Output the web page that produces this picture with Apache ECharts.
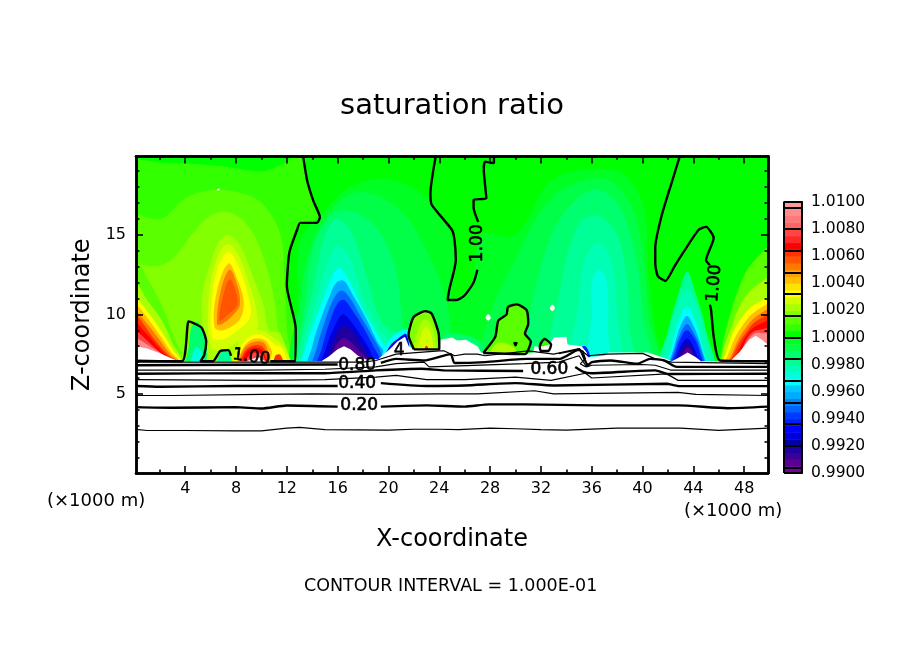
<!DOCTYPE html>
<html>
<head>
<meta charset="utf-8">
<style>html,body{margin:0;padding:0;background:#fff}#chart{width:904px;height:654px}</style>
<script src="https://cdn.jsdelivr.net/npm/echarts@6/dist/echarts.min.js"></script>
</head>
<body>
<div id="chart"></div>
<script>
// Tick values
var xMajor = [4, 8, 12, 16, 20, 24, 28, 32, 36, 40, 44, 48];
var xMinor = [2, 6, 10, 14, 18, 22, 26, 30, 34, 38, 42, 46];
var zMajor = [5, 10, 15];
var zMinor = [1, 2, 3, 4, 6, 7, 8, 9, 11, 12, 13, 14, 16, 17, 18, 19];
var barLabels = [0.99, 0.992, 0.994, 0.996, 0.998, 1, 1.002, 1.004, 1.006, 1.008, 1.01];
var barLines = [0.9904, 0.992, 0.9936, 0.9952, 0.9968, 0.9984, 1, 1.0016, 1.0032, 1.0048, 1.0064, 1.008, 1.0096];

// Colour of every 0.0005 band, from 0.9900 upward
var bandColors = ['#78009a', '#5a0096', '#3c0096', '#1e00a0', '#0000aa', '#0000dc', '#0000ff', '#001eff', '#003cff', '#0064ff',
  '#0082ff', '#00aaff', '#00c8ff', '#00ffff', '#00ffdc', '#00ffb4', '#00ff96', '#00ff6e', '#00ff46', '#00ff23',
  '#00ff00', '#32ff00', '#5aff00', '#82ff00', '#aaff00', '#d2ff00', '#ffff00', '#ffe100', '#ffbe00', '#ffa000',
  '#ff7800', '#ff5500', '#ff3200', '#ff0000', '#ff2828', '#ff4646', '#ff6464', '#ff7878', '#ff8c8c', '#ff9b9b'];

// Filled contour regions: [band value, [[x, z], ...]], painted in order
var upperLeftField = [
  [1.0007, [[-2, 19.2], [3, 19.5], [7, 19.3], [10, 19], [12, 19.6], [13.3, 20.5], [13.6, 18.4], [14.1, 17.1], [14.6, 16.1], [14.3, 15.7], [13, 15.7], [12.2, 13.9], [12, 11.8], [12.7, 9.1], [12.7, 6], [-2, 6]]],
  [1.0012, [[-2, 16.5], [2, 16], [4, 17.3], [6, 17.8], [8, 17.7], [10, 17], [11.5, 15], [11.8, 12], [12, 9], [12.2, 6], [-2, 6]]],
  [1.0017, [[-2, 13.5], [1.5, 13], [3, 13.5], [4.5, 15], [6, 16.2], [7.5, 16.4], [9, 15.5], [10.2, 13.5], [11, 11], [11.3, 9], [11.8, 6], [2, 6]]]
];
var lowMidField = [
  [0.9997, [[13, 6], [12.9, 11], [13, 14.5], [15, 16.5], [17, 18], [20, 18.5], [23.5, 17], [25.3, 14], [25, 11], [26.5, 12], [27.3, 15], [30, 15], [33, 18.5], [38, 19], [40, 17], [40.5, 12], [41, 9], [41.5, 6]]],
  [0.9992, [[13.2, 6], [13.1, 11], [14, 14.5], [16, 17], [18, 17.7], [21, 16.5], [23, 14], [24.5, 11], [25, 8], [25, 6]]],
  [0.9992, [[27.5, 6], [28, 10], [30, 13.5], [32, 16.5], [34, 18], [37, 18.5], [39, 17], [40, 14], [40.5, 10], [41, 6]]],
  [0.9987, [[13.3, 6], [13.5, 11], [14.2, 14.5], [15.5, 16.2], [17, 16.5], [19, 15.5], [20.5, 13], [21, 10], [21, 6]]],
  [0.9987, [[31, 6], [31, 9], [32, 13], [33.5, 16], [36, 17.8], [38, 17], [39.5, 13.5], [40, 10], [40.5, 6]]],
  [0.9982, [[33, 6], [33.6, 12], [35, 15.7], [36.5, 16.2], [38, 15], [38.8, 12], [39, 9], [39.5, 6]]],
  [0.9977, [[34.5, 6], [35, 11], [35.5, 13.5], [36.5, 14.5], [37.5, 13.5], [38, 10], [38.2, 6]]],
  [0.9972, [[35.6, 6], [36, 10], [36, 12], [36.6, 12.8], [37.2, 12], [37.3, 9], [37.3, 6]]]
];
var blueColumn16 = [
  [0.9982, [[12.9, 6], [13, 8], [13.6, 10], [14.3, 12.5], [15, 15], [16, 16], [17.2, 15], [18.4, 12], [19.5, 9.5], [21, 8.5], [21, 6]]],
  [0.9975, [[13, 6], [13.3, 8], [14, 10], [14.7, 12], [15.3, 13.5], [16, 14.3], [17, 13.5], [18, 11], [19.2, 9.2], [20.4, 7.8], [20.4, 6]]],
  [0.9965, [[13.2, 6], [13.5, 8], [14.4, 10], [15.1, 11.5], [15.7, 12.6], [16.2, 12.9], [17, 12], [18, 10.3], [19.1, 8.8], [20, 7.5], [20, 6]]],
  [0.9955, [[13.6, 6], [14, 8], [14.8, 10], [15.4, 11.2], [15.9, 12], [16.5, 12.1], [17.2, 11.2], [18.2, 9.8], [19.1, 8.3], [19.8, 7.4], [19.8, 6]]],
  [0.9945, [[14, 6], [14.4, 8], [15.1, 9.8], [15.7, 11], [16.3, 11.5], [16.9, 11.1], [17.7, 10], [18.6, 8.8], [19.5, 7.4], [19.5, 6]]],
  [0.9935, [[14.3, 6], [14.8, 8], [15.4, 9.6], [16, 10.7], [16.5, 10.9], [17.2, 10.2], [18, 9.2], [18.8, 8], [19.3, 7.2], [19.3, 6]]],
  [0.9925, [[14.6, 6], [15.1, 7.9], [15.8, 9.3], [16.4, 10], [17, 9.6], [17.8, 8.7], [18.7, 7.4], [18.8, 6]]],
  [0.9915, [[14.9, 6], [15.4, 7.8], [16, 8.9], [16.5, 9.3], [17.1, 9], [17.8, 8.2], [18.5, 7.2], [18.5, 6]]],
  [0.9905, [[15.1, 6], [15.7, 7.8], [16.4, 8.5], [17, 8.3], [17.7, 7.7], [18.3, 7.2], [18.3, 6]]]
];
var blueColumn43 = [
  [0.9982, [[41.3, 6], [42, 9], [42.9, 11.5], [43.5, 12.7], [44.1, 11.5], [45, 9], [45.6, 6]]],
  [0.9975, [[41.7, 6], [42.1, 8.8], [42.8, 10.7], [43.5, 11.6], [44.2, 10.7], [44.9, 8.8], [45.4, 6]]],
  [0.9965, [[41.9, 6], [42.3, 8], [42.8, 9.5], [43.5, 10.5], [44.2, 9.5], [44.7, 8], [45.1, 6]]],
  [0.9955, [[42, 6], [42.5, 8], [43, 9.3], [43.5, 9.9], [44, 9.3], [44.6, 8], [45, 6]]],
  [0.9945, [[42.1, 6], [42.6, 8], [43.1, 9], [43.5, 9.4], [43.9, 9], [44.5, 8], [44.9, 6]]],
  [0.9935, [[42.2, 6], [42.7, 7.9], [43.2, 8.8], [43.5, 9], [43.9, 8.7], [44.4, 7.9], [44.8, 6]]],
  [0.9925, [[42.3, 6], [42.9, 7.8], [43.5, 8.5], [44.1, 7.8], [44.7, 6]]],
  [0.9915, [[42.4, 6], [43, 7.7], [43.5, 8.2], [44, 7.7], [44.6, 6]]],
  [0.9905, [[42.5, 6], [43.2, 7.6], [43.55, 7.9], [43.9, 7.6], [44.5, 6]]]
];
var yellowPlume = [
  [1.0022, [[5.6, 7], [5.4, 9], [5.3, 11], [5.9, 13], [6.6, 14.5], [7.4, 15], [8.4, 14.2], [9.5, 12], [10.2, 10.5], [10.6, 9], [11.5, 8.8], [12, 6.5], [6, 6.5]]],
  [1.0027, [[6, 8], [5.8, 10], [6, 12], [6.7, 13.9], [7.4, 14.4], [8.2, 13.7], [9, 12], [9.6, 10.3], [9.6, 9], [8, 8.2], [6.8, 7.7]]],
  [1.0032, [[6.1, 8.6], [6.1, 11], [6.6, 13], [7.4, 13.9], [8.2, 13], [9, 11], [9.1, 9.8], [7.8, 8.8], [6.8, 8.4]]],
  [1.0042, [[6.3, 9.2], [6.5, 11.5], [7.4, 13.2], [8.1, 12.2], [8.6, 10.8], [8.3, 9.7], [7, 9]]],
  [1.0052, [[6.5, 9.4], [6.8, 11.5], [7.5, 12.8], [8.1, 11.8], [8.3, 10.6], [7.7, 9.9], [6.9, 9.4]]],
  [1.0057, [[6.7, 9.6], [7, 11.2], [7.5, 12.2], [8, 11.4], [8.1, 10.6], [7.4, 10]]]
];
var lowerBlob10 = [
  [1.0027, [[7.6, 6.5], [8, 7.8], [8.8, 8.9], [10, 9], [11, 8.5], [11.8, 7.9], [12.3, 6.5]]],
  [1.0032, [[7.9, 6.5], [8.3, 7.8], [9, 8.6], [10, 8.7], [10.9, 8.2], [11.6, 7.6], [12, 6.5]]],
  [1.0042, [[8.1, 6.5], [8.5, 7.8], [9.2, 8.4], [10.2, 8.4], [10.8, 7.7], [10.9, 6.5]]],
  [1.0052, [[8.2, 6.5], [8.6, 7.8], [9.3, 8.25], [10.2, 8.2], [10.6, 7.4], [10.7, 6.5]]],
  [1.0062, [[8.3, 6.5], [8.7, 7.7], [9.4, 8.05], [10.1, 7.95], [10.5, 7.3], [10.6, 6.5]]],
  [1.0067, [[8.4, 6.5], [8.8, 7.6], [9.5, 7.9], [10.1, 7.7], [10.4, 6.5]]],
  [1.0078, [[8.7, 6.5], [9, 7.4], [9.7, 7.6], [10.2, 7.3], [10.3, 6.5]]],
  [1.0032, [[10.7, 6.5], [11, 7.9], [11.4, 8], [11.9, 7.4], [12, 6.5]]],
  [1.0062, [[10.9, 6.5], [11.1, 7.4], [11.5, 7.45], [11.8, 6.5]]]
];
var lowLoops = [
  [0.9987, [[3.9, 6], [4.3, 8], [4.5, 9.2], [5, 9.5], [5.6, 8.5], [5.7, 7.5], [5.5, 6]]],
  [0.9972, [[4.3, 6], [4.8, 7.9], [5.3, 7.6], [5.5, 6]]],
  [0.9982, [[6.2, 6], [6.8, 7.6], [7.4, 7.7], [7.7, 6]]]
];
var leftFan = [
  [1.0012, [[-1, 6], [-1, 14], [0.125, 13.5], [1, 12.3], [2.2, 10.5], [3, 8.8], [3.6, 7]]],
  [1.0022, [[-1, 6], [-1, 12.3], [0.125, 12], [1, 10.9], [2.1, 9.7], [3, 8.2], [3.6, 7]]],
  [1.0032, [[-1, 6], [-1, 11.2], [0.125, 11], [1, 10.2], [2, 9.1], [3, 7.8], [3.6, 7]]],
  [1.0042, [[-1, 6], [-1, 10.8], [0.125, 10.6], [0.9, 9.9], [1.9, 8.8], [2.9, 7.6], [3.5, 7]]],
  [1.0052, [[-1, 6], [-1, 10.4], [0.125, 10.2], [0.8, 9.6], [1.8, 8.6], [2.8, 7.5], [3.4, 7]]],
  [1.0062, [[-1, 6], [-1, 10.1], [0.125, 9.95], [0.7, 9.4], [1.6, 8.4], [2.7, 7.4], [3.4, 7]]],
  [1.0067, [[-1, 6], [-1, 9.6], [0.125, 9.5], [0.6, 9.1], [1.5, 8.3], [2.6, 7.35], [3.4, 7]]],
  [1.0077, [[-1, 6], [-1, 9], [0.125, 8.9], [0.4, 8.8], [1.2, 8.2], [2.5, 7.3], [3.4, 7]]],
  [1.0092, [[-1, 6], [-1, 8.6], [0.125, 8.5], [1, 8.1], [2.3, 7.45], [3.4, 7]]]
];
var rightFan = [
  [1.0012, [[45.9, 6], [46.1, 7.05], [46.4, 8.5], [46.9, 10], [47.6, 11.7], [48.6, 13.2], [51, 14.6], [51, 6]]],
  [1.0022, [[46.1, 6], [46.3, 7.6], [46.9, 9], [47.7, 10.6], [48.8, 11.7], [51, 12.5], [51, 6]]],
  [1.0032, [[46.2, 6], [46.7, 7.9], [47.4, 9.3], [48.8, 10.6], [51, 11.2], [51, 6]]],
  [1.0042, [[46.4, 6], [47, 8], [47.7, 9.1], [48.9, 10.2], [51, 10.8], [51, 6]]],
  [1.0052, [[46.6, 6], [47.3, 8], [48, 9], [49, 9.9], [51, 10.5], [51, 6]]],
  [1.0062, [[46.7, 6], [47.4, 7.9], [48.1, 8.8], [49, 9.6], [51, 10.1], [51, 6]]],
  [1.0067, [[46.8, 6], [47.6, 7.8], [48.2, 8.7], [49, 9.3], [51, 9.7], [51, 6]]],
  [1.0077, [[46.9, 6], [47.8, 7.7], [48.3, 8.6], [49, 9], [51, 9], [51, 6]]],
  [1.0092, [[47, 6], [47.8, 7.7], [48.4, 8.5], [49, 8.85], [51, 8.4], [51, 6]]]
];
var cloudBlobs = [
  [1.0015, [[21.6, 6], [21.58, 8.68], [21.98, 9.83], [22.9, 10.2], [23.4, 10.05], [23.95, 8.8], [24, 6]]],
  [1.0022, [[22, 7], [22.3, 9], [22.9, 9.7], [23.5, 9.1], [23.7, 7]]],
  [1.0027, [[22.2, 7], [22.6, 8.8], [23, 9.2], [23.4, 8.6], [23.5, 7]]],
  [1.0065, [[22.6, 7], [23, 8.05], [23.3, 7]]],
  [1.0012, [[27.46, 7.2], [28.4, 8.57], [28.64, 9.6], [29.3, 10], [29.4, 10.46], [30.1, 10.63], [30.87, 10.26], [31, 9.4], [30.74, 8.8], [31.2, 8.3], [30.74, 7.2]]],
  [1.0022, [[27.8, 7], [28.6, 8.2], [30, 7.8], [29.6, 7]]],
  [1.0007, [[31.9, 7.6], [31.95, 8.1], [32.3, 8.45], [32.8, 8.1], [32.7, 7.6]]],
  [0.9935, [[34.7, 7], [35, 7.8], [35.5, 8], [35.9, 7.3], [35.8, 7]]],
  [0.9965, [[19.5, 7], [19.9, 8.2], [20.8, 8.9], [21.5, 9], [21.6, 7.5]]],
  [0.9925, [[19.6, 7], [20.1, 8], [20.8, 8.5], [21.4, 8.75], [21.5, 7.5]]],
  [0.9985, [[24.4, 7.5], [24.4, 8.7], [26, 8.7], [27.3, 8.2], [27.3, 7.5]]]
];
var whiteSpots = [
  [1.02, [[27.65, 9.8], [27.85, 10], [28.05, 9.8], [27.85, 9.6]]],
  [1.02, [[32.7, 10.4], [32.9, 10.6], [33.1, 10.4], [32.9, 10.2]]],
  [1.02, [[6.5, 17.85], [6.7, 17.9], [6.7, 17.8], [6.5, 17.8]]]
];

// White ground below the coloured field, top edge read left to right
var groundTop = [[-1, 8], [0.125, 8], [1, 7.85], [2, 7.55], [3, 7.2], [3.5, 7.05], [8.9, 7.05], [9.2, 7.2], [9.8, 7.3], [10.2, 7.1], [10.4, 7.05],
  [14.7, 7.05], [15.3, 7.35], [16, 7.8], [16.5, 8], [17, 7.8], [17.6, 7.4], [18.3, 7.15], [19.2, 7.2], [20.1, 7.8], [20.7, 8.3], [21.3, 8.6], [21.6, 8], [22, 7.8],
  [24, 7.8], [24.1, 8.4], [25, 8.55], [25.4, 8.35], [26.1, 8.4], [27, 8], [27.3, 7.6], [30.7, 7.5], [31.4, 7.6], [31.5, 8], [31.9, 7.95], [32.7, 8.1], [33, 8.55],
  [34, 8.6], [34.1, 8.1], [35.2, 8], [35.6, 7.6], [35.7, 7.3], [37, 7.4], [37.3, 7.6], [40.4, 7.6], [41.2, 7.4], [41.9, 7.2], [42.3, 7.05], [42.8, 7.25], [43.55, 7.6],
  [44.2, 7.3], [44.6, 7.05], [46.9, 7.05], [47.6, 7.6], [48.4, 8.4], [48.9, 8.65], [49.4, 8.4], [50, 8], [51, 8], [51, -1], [-1, -1]];

// Contour lines, thin ones
var line010 = [[0.1, 2.77], [1, 2.7], [4, 2.7], [8, 2.68], [10, 2.68], [12, 2.85], [13, 2.9], [15, 2.75], [20, 2.73], [22, 2.78], [24, 2.78], [25.5, 2.75], [28, 2.85], [30, 2.81], [32, 2.75], [34, 2.72], [38, 2.85], [43, 2.85], [46, 2.71], [49.9, 2.85]];
var line030 = [[0.1, 4.9], [3, 4.9], [10, 4.97], [14, 5], [19, 4.97], [24, 5], [27, 5], [31.5, 5.2], [33, 5], [42.8, 5.1], [44.2, 4.97], [49.9, 4.9]];
var line050 = [[0.1, 5.9], [10, 5.85], [15, 5.9], [19, 6.06], [20.6, 6.16], [23, 5.9], [24.5, 5.9], [26, 5.9], [30, 6.05], [32.8, 5.85], [35.5, 6.3], [36, 6], [41.9, 6.26], [42.8, 5.85], [49.9, 5.85]];
var line070 = [[0.1, 6.5], [10, 6.5], [15, 6.55], [19, 6.7], [20.6, 6.9], [22.8, 7], [23.2, 6.7], [24.4, 6.73], [30.7, 6.9], [33.4, 7], [35, 7.4], [35.6, 6.7], [36, 6.8], [40, 6.85], [41, 6.8], [42.2, 6.5], [49.9, 6.5]];
var line090 = [[0.1, 7], [18, 7], [19, 7.1], [20.6, 7.5], [24, 7.7], [24.4, 7.7], [25.2, 7.4], [26, 7.5], [27, 7.5], [27.6, 7.4], [31, 7.7], [33, 7.5], [35, 7.85], [35.7, 7.4], [37.2, 7.5], [40, 7.55], [41, 7.2], [42.3, 7], [49.9, 6.9]];
var line095 = [[33.4, 7.53], [34.7, 7.74], [35.3, 7.7], [35.5, 7.2], [35.1, 6.9], [35.5, 6.7], [35.7, 6.9]];

// Contour lines, thick ones, broken where a label sits
var line020a = [[0.1, 4.17], [3, 4.13], [8, 4.17], [10, 4.08], [12, 4.27], [16, 4.2]];
var line020b = [[19.4, 4.2], [23, 4.28], [26, 4.2], [27.9, 4.34], [30.7, 4.34], [36.5, 4.28], [42.8, 4.28], [46.7, 4.1], [49.9, 4.2]];
var line040a = [[0.1, 5.5], [2, 5.45], [8, 5.5], [12, 5.5], [16, 5.5]];
var line040b = [[19.4, 5.68], [23, 5.5], [26, 5.53], [30, 5.68], [33, 5.53], [41.9, 5.64], [42.8, 5.5], [49.9, 5.49]];
var line060a = [[0.1, 6.27], [10, 6.3], [15, 6.3], [19, 6.48], [22.6, 6.58], [24.4, 6.48], [30.6, 6.44]];
var line060b = [[34.7, 6.69], [35.3, 6.4], [36, 6.3], [41, 6.48], [42, 6.25], [49.9, 6.27]];
var line080a = [[0.1, 6.8], [15, 6.85], [16, 6.85]];
var line080b = [[19.4, 6.95], [20.6, 7.2], [22.8, 7.1], [24.9, 7.5], [25.2, 6.94], [27.6, 7], [30.9, 7.2], [33.5, 7.2], [35, 7.8], [35.7, 6.8], [36, 7], [37.5, 7.1], [39.6, 6.9], [40.6, 7.2], [41.7, 7.1], [42.7, 6.7], [49.9, 6.7]];
var line100a = [[0.1, 7.08], [3.74, 7.05], [4.26, 9.56], [4.66, 9.45], [5.3, 9.15], [5.65, 8.3], [5.5, 7.45], [5.2, 7.05], [6.18, 7.05], [6.76, 7.7], [7.4, 7.75], [7.6, 7.4]];
var line100b = [[10.7, 7.05], [12.66, 7.05], [12.7, 9.1], [12, 11.8], [12.2, 13.9], [12.8, 15.3], [13.05, 15.75], [14.37, 15.75], [14.6, 16.1], [14.1, 17.1], [13.6, 18.4], [13.3, 19.85]];
var line100c = [[22, 7.8], [21.58, 8.68], [21.98, 9.83], [22.9, 10.2], [23.4, 10.05], [23.95, 8.8], [24, 7.8], [22, 7.8]];
var line100d = [[23.7, 19.85], [23.3, 17.6], [23.4, 16.9], [25, 15.3], [25.2, 14.65], [25.3, 13.4], [24.8, 11.6], [24.65, 10.9], [25.36, 10.9], [26, 11.2], [26.7, 12], [27, 12.8]];
var line100e = [[27.07, 15.8], [26.7, 16.7], [26.7, 17.2], [27.7, 17.3], [27.5, 19.1], [27.6, 19.6], [28.3, 19.5], [28.3, 19.85]];
var line100f = [[27.46, 7.57], [28.4, 8.57], [28.64, 9.6], [29.3, 10], [29.4, 10.46], [30.1, 10.63], [30.87, 10.26], [31, 9.4], [30.74, 8.8], [31.2, 8.3], [30.74, 7.5], [27.46, 7.57]];
var line100g = [[31.9, 7.95], [32, 8.2], [32.3, 8.45], [32.8, 8.1], [32.6, 7.7], [32, 7.7], [31.9, 7.95]];
var line100h = [[42.9, 19.85], [42.3, 18.3], [41.5, 16.2], [41, 14.2], [41, 13.2], [41.2, 12.4], [41.8, 12.1], [42.5, 13], [43.3, 14], [44.4, 15.3], [45, 15.5], [45.6, 14.8], [45, 13.4], [45.3, 13.1]];
var line100i = [[45.3, 10.6], [45.4, 10.25], [45.6, 8.6], [46.1, 7.1], [49.9, 7.05]];
var line100j = [[29.9, 8.25], [30, 8.05], [30.1, 8.25]];

// Contour labels: x, z, text, rotation
var contourLabels = [
  [17.54, 6.8, '0.80', 0], [17.54, 5.66, '0.40', 0], [17.7, 4.28, '0.20', 0], [32.66, 6.54, '0.60', 0],
  [9.2, 7.3, '1.00', -8], [26.99, 14.47, '1.00', 90], [45.65, 11.95, '1.00', 85], [20.85, 7.74, '4', 0]
];

var thinLines = [line010, line030, line050, line070, line090, line095];
var thickLines = [line020a, line020b, line040a, line040b, line060a, line060b, line080a, line080b, line100a, line100b,
  line100c, line100d, line100e, line100f, line100g, line100h, line100i, line100j];
var fieldRings = [].concat(upperLeftField, lowMidField, blueColumn16, blueColumn43, yellowPlume, lowerBlob10, lowLoops, leftFan, rightFan, cloudBlobs, whiteSpots);

var FONT = '"DejaVu Sans", sans-serif';

function bandColor(v) {
  if (v < 0.99 || v >= 1.01) return '#ffffff';
  return bandColors[Math.floor((v - 0.99) / 0.0005)];
}

// One axis of the frame, ticks pointing into the plot
function frameAxis(dim, position, ticks, len, labels) {
  var axis = {
    type: 'value',
    position: position,
    min: dim == 'x' ? 0.125 : 0.03,
    max: dim == 'x' ? 49.875 : 19.92,
    z: 10,
    splitLine: { show: false },
    axisLine: { show: true, onZero: false, lineStyle: { color: '#000', width: 2.5 } },
    axisTick: { show: true, inside: true, length: len, customValues: ticks, lineStyle: { color: '#000', width: 1.6 } },
    axisLabel: { show: false }
  };
  if (labels) {
    axis.axisLabel = { show: true, customValues: labels, color: '#000', fontFamily: FONT, fontSize: 16, margin: dim == 'x' ? 8 : 10 };
  }
  return axis;
}

var xAxes = [
  frameAxis('x', 'bottom', xMajor, 7, xMajor),
  frameAxis('x', 'bottom', xMinor, 3.5),
  frameAxis('x', 'top', xMajor, 7),
  frameAxis('x', 'top', xMinor, 3.5)
];
xAxes[0].name = 'X-coordinate';
xAxes[0].nameLocation = 'middle';
xAxes[0].nameGap = 55;
xAxes[0].nameTextStyle = { fontFamily: FONT, fontSize: 24, color: '#000' };

var yAxes = [
  frameAxis('y', 'left', zMajor, 7, zMajor),
  frameAxis('y', 'left', zMinor, 3.5),
  frameAxis('y', 'right', zMajor, 7),
  frameAxis('y', 'right', zMinor, 3.5)
];
yAxes[0].name = 'Z-coordinate';
yAxes[0].nameLocation = 'middle';
yAxes[0].nameGap = 38;
yAxes[0].nameTextStyle = { fontFamily: FONT, fontSize: 24, color: '#000' };

// Colour bar axes
xAxes.push({ type: 'value', gridIndex: 1, min: 0, max: 1, show: false });
yAxes.push({
  type: 'value', gridIndex: 1, min: 0.99, max: 1.01, position: 'right', z: 10,
  splitLine: { show: false },
  axisLine: { show: true, onZero: false, lineStyle: { color: '#000', width: 2 } },
  axisTick: { show: true, inside: true, length: 18, customValues: barLines, lineStyle: { color: '#000', width: 2 } },
  axisLabel: {
    show: true, customValues: barLabels, margin: 9, color: '#000', fontFamily: FONT, fontSize: 15.5,
    formatter: function (v) { return v.toFixed(4); }
  }
});

function polygonSeries(rings, smooth) {
  return {
    type: 'custom',
    coordinateSystem: 'cartesian2d',
    clip: true,
    silent: true,
    z: 2,
    data: rings.map(function (r, i) { return [i, 0]; }),
    renderItem: function (params, api) {
      var ring = rings[params.dataIndex];
      return {
        type: 'polygon',
        shape: { points: ring[1].map(function (p) { return api.coord(p); }), smooth: smooth },
        style: { fill: bandColor(ring[0]) }
      };
    }
  };
}

var series = [polygonSeries(fieldRings, 0.35), polygonSeries([[1.02, groundTop]], 0)];

thinLines.forEach(function (pts) {
  series.push({ type: 'line', data: pts, symbol: 'none', silent: true, z: 4, lineStyle: { color: '#000', width: 1.2 } });
});
thickLines.forEach(function (pts) {
  series.push({ type: 'line', data: pts, smooth: 0.2, symbol: 'none', silent: true, z: 4, lineStyle: { color: '#000', width: 2.4 } });
});

// Contour labels
series.push({
  type: 'scatter',
  symbolSize: 1,
  silent: true,
  z: 5,
  itemStyle: { color: 'rgba(0,0,0,0)' },
  data: contourLabels.map(function (l) {
    return {
      value: [l[0], l[1]],
      label: {
        show: true, position: 'inside', formatter: l[2], rotate: l[3], opacity: 1,
        color: '#000', textBorderColor: '#000', textBorderWidth: 0.6, fontFamily: FONT, fontSize: 17
      }
    };
  })
});

// Colour bar
series.push({
  type: 'custom',
  coordinateSystem: 'cartesian2d',
  xAxisIndex: 4,
  yAxisIndex: 4,
  silent: true,
  data: bandColors.map(function (c, i) { return [i, 0]; }),
  renderItem: function (params, api) {
    var i = params.dataIndex;
    var a = api.coord([0, 0.99 + i * 0.0005]);
    var b = api.coord([1, 0.99 + (i + 1) * 0.0005]);
    return {
      type: 'rect',
      shape: { x: a[0], y: b[1], width: b[0] - a[0], height: a[1] - b[1] + 0.5 },
      style: { fill: bandColors[i] }
    };
  }
});
// Colour bar outline
series.push({
  type: 'line',
  xAxisIndex: 4,
  yAxisIndex: 4,
  clip: false,
  silent: true,
  symbol: 'none',
  z: 6,
  lineStyle: { color: '#000', width: 2 },
  data: [[0, 0.99], [0, 1.01], [1, 1.01], [1, 0.99], [0, 0.99]]
});

var chart = echarts.init(document.getElementById('chart'));
chart.setOption({
  animation: false,
  backgroundColor: '#fff',
  title: {
    text: 'saturation ratio',
    left: 447,
    top: 87,
    textAlign: 'center',
    textStyle: { fontFamily: FONT, fontSize: 29, fontWeight: 'normal', color: '#000' }
  },
  grid: [
    { left: 136, top: 156.5, width: 632, height: 316.5, show: true, backgroundColor: '#00ff00', borderWidth: 0 },
    { left: 784, top: 202, width: 18, height: 271 }
  ],
  xAxis: xAxes,
  yAxis: yAxes,
  series: series,
  graphic: [
    { type: 'text', left: 47, top: 492, style: { text: '(×1000 m)', fontFamily: FONT, fontSize: 18, fill: '#000' } },
    { type: 'text', left: 684, top: 502, style: { text: '(×1000 m)', fontFamily: FONT, fontSize: 18, fill: '#000' } },
    { type: 'text', left: 304, top: 577, style: { text: 'CONTOUR INTERVAL = 1.000E-01', fontFamily: FONT, fontSize: 17.5, fill: '#000' } }
  ]
});
</script>
</body>
</html>
